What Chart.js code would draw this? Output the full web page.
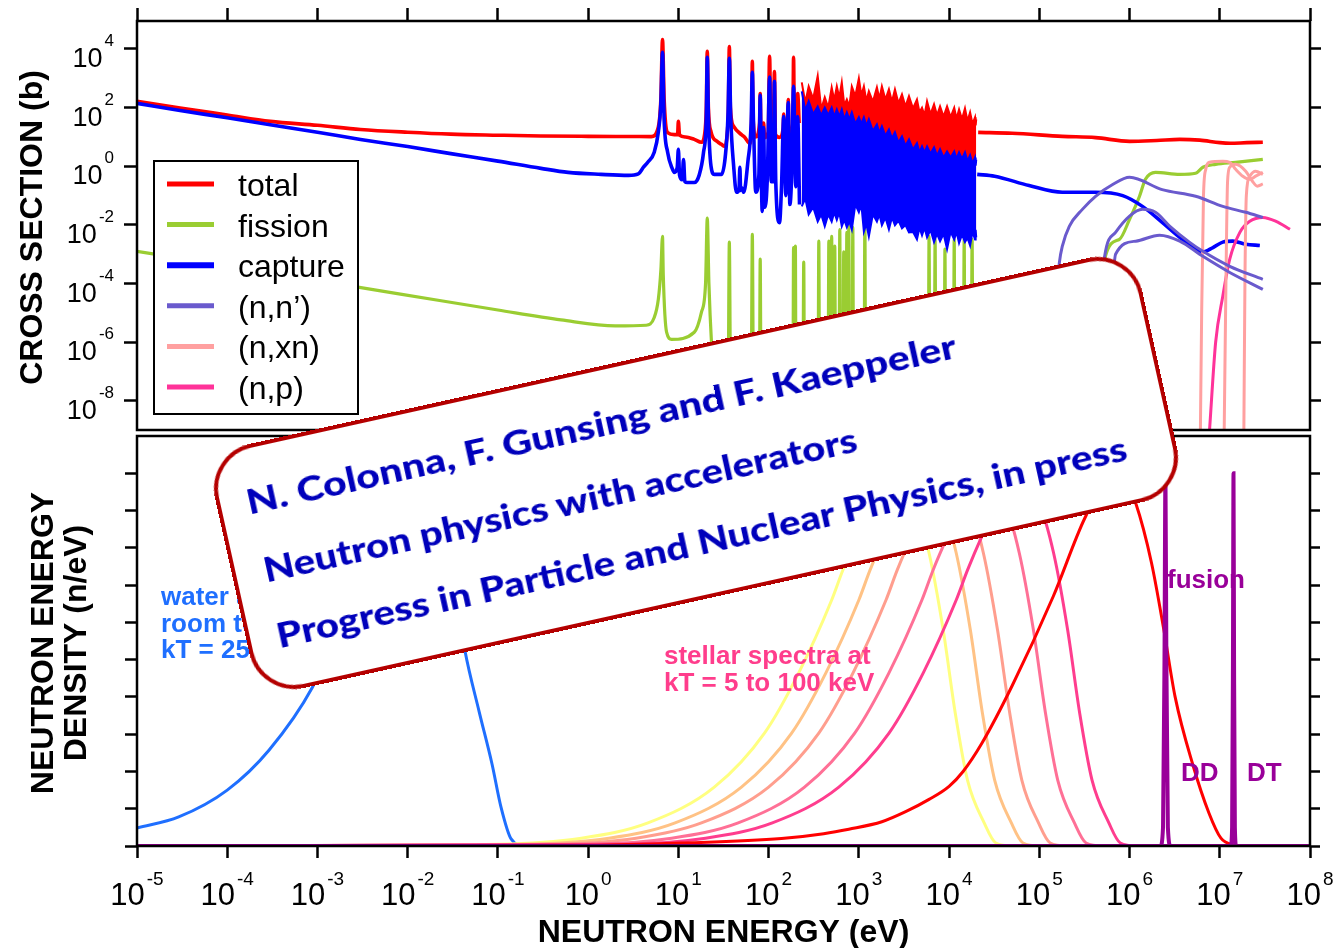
<!DOCTYPE html>
<html lang="en">
<head>
<meta charset="utf-8">
<title>Neutron cross sections and neutron spectra</title>
<script src="https://cdn.jsdelivr.net/npm/chart.js@4.4.1/dist/chart.umd.min.js"></script>
<style>
  html, body { margin: 0; padding: 0; background: #ffffff; }
  #wrap { position: relative; width: 1337px; height: 948px; overflow: hidden; background: #ffffff; }
  #wrap canvas { position: absolute; left: 0; top: 0; }
  #note {
    position: absolute; left: 221px; top: 348px; width: 950px; height: 250px;
    box-sizing: border-box; border: 4px solid #b40000; border-radius: 46px;
    background: #ffffff; transform: rotate(-12.5deg);
  }
  #note svg { position: absolute; left: 0; top: 0; }
  #note text { font-family: Lato, "Noto Sans", sans-serif; font-weight: 900; font-size: 35px; fill: #0000bb; }
</style>
</head>
<body>
<div id="wrap">
  <canvas id="xsChart" width="1337" height="948"></canvas>
  <canvas id="specChart" width="1337" height="948"></canvas>
  <div id="note"><svg width="942" height="242"></svg></div>
</div>
<script>
// axis ticks
var xTickExps = [-5, -4, -3, -2, -1, 0, 1, 2, 3, 4, 5, 6, 7, 8];
var xsTickExps = [-8, -6, -4, -2, 0, 2, 4];
var densTicks = [0, 1, 2, 3, 4, 5, 6, 7, 8, 9, 10];

// top panel: cross sections, energy in eV, sigma in barn
var totalE = [1e-5, 3e-5, 1e-4, 3e-4, 1e-3, 3e-3, 1e-2, 3e-2, 0.1, 0.3, 1.0, 3.0, 5.0, 6.0, 6.4, 6.67, 6.95, 7.6, 9.0, 9.8,
  10.0, 10.3, 12, 15, 18, 19.5, 20.4, 20.9, 21.5, 23, 27, 30, 32.4, 34.5, 35.8, 36.7, 37.7, 41, 50, 54,
  62, 65, 66, 67, 72, 79.5, 80.7, 82, 86, 88, 90, 99, 102.5, 106, 113, 116, 119, 132, 145, 147,
  150, 163, 165, 168, 186, 189, 193, 205, 210, 218, 233, 2.1e4, 5e4, 1.8e5, 4.2e5, 1e6, 2e6, 3.6e6, 6e6, 1e7,
  1.3e7, 2e7, 3e7];
var totalXS = [165, 97, 56, 34, 25, 18, 14.5, 12.5, 11.5, 10.8, 10.5, 10.4, 10.3, 22, 200, 2.1e4, 200, 14, 12, 12,
  34, 11.5, 10, 8.3, 6.6, 12, 100, 8300, 100, 15, 7, 5.6, 4.8, 10, 80, 1.2e4, 100, 23, 12, 10,
  6.0, 60, 3800, 60, 10, 30, 300, 20, 9.7, 30, 9.5, 15, 5600, 15, 12, 1700, 12, 9.7, 20, 60,
  10, 30, 190, 12, 30, 5200, 20, 15, 300, 30, null, 14.4, 13.4, 10.5, 9.5, 7.1, 7.6, 8.3, 7.8, 6.4,
  6.1, 6.4, 6.6];

var captureE = [1e-5, 3e-5, 1e-4, 3e-4, 1e-3, 3e-3, 1e-2, 3e-2, 0.1, 0.3, 0.6, 1.39, 2.8, 3.6, 4.1, 4.6, 5.4, 6.0, 6.4, 6.67,
  6.95, 7.6, 8.6, 9.0, 9.7, 10.0, 10.3, 11.0, 11.4, 11.8, 12.5, 15, 17, 19, 20.4, 20.9, 21.5, 23, 25, 30,
  33, 35.5, 36.7, 38, 41, 44, 47, 48, 49, 50, 53, 59, 64, 66, 68, 72, 78, 80.7, 83, 85,
  88, 91, 97, 102.5, 107, 113, 116, 120, 132, 139, 147, 155, 165, 172, 180, 189, 200, 210, 220, 233,
  2.05e4, 3.2e4, 7.7e4, 1.8e5, 4.2e5, 8.4e5, 1.39e6, 2.3e6, 3.6e6, 5.4e6, 6.5e6, 8.4e6, 1.08e7, 1.39e7, 1.94e7, 2.78e7];
var captureXS = [140, 80, 45, 26, 14.5, 8.2, 4.7, 2.7, 1.5, 0.85, 0.62, 0.53, 0.49, 0.55, 0.93, 1.4, 3.0, 15, 150, 7700,
  40, 3.0, 0.8, 0.62, 0.9, 3.8, 0.5, 0.35, 1.7, 0.3, 0.28, 0.28, 0.5, 3, 50, 5200, 50, 1.0, 0.53, 0.53,
  2, 60, 4800, 50, 1.0, 0.13, 0.16, 0.93, 0.15, 0.19, 0.13, 1.5, 30, 1600, 30, 0.13, 0.5, 265, 0.5, 0.029,
  21, 0.04, 0.5, 1100, 0.3, 0.3, 790, 0.3, 0.012, 0.2, 50, 0.1, 150, 0.05, 0.5, 530, 0.2, 50, 0.05, null,
  0.53, 0.46, 0.22, 0.13, 0.13, 0.1, 0.043, 0.0123, 0.0038, 0.0015, 0.0012, 0.0017, 0.0026, 0.0028, 0.0022, 0.002];

// dense resonance band, 230 eV - 20 keV (peak / valley envelopes)
var bandE = [233, 255, 278, 312, 350, 383, 419, 458, 500, 534, 570, 607, 647, 690, 736, 784, 836, 914, 1000, 1066,
  1137, 1212, 1291, 1430, 1585, 1690, 1801, 1970, 2154, 2326, 2512, 2748, 3006, 3287, 3594, 3979, 4406, 4700, 5012, 5345,
  5700, 6232, 6813, 7356, 7943, 8687, 9500, 1.04e4, 1.14e4, 1.21e4, 1.29e4, 1.39e4, 1.5e4, 1.6e4, 1.71e4, 1.82e4, 1.94e4, 1.97e4, 2.0e4];
var totalBandHi = [730, 150, 530, 200, 1200, 90, 225, 100, 490, 180, 530, 220, 730, 120, 190, 110, 530, 250, 1000, 260,
  530, 170, 360, 160, 490, 200, 530, 190, 420, 160, 420, 140, 285, 110, 245, 95, 190, 70, 100, 55,
  165, 60, 130, 55, 110, 50, 110, 48, 100, 42, 87, 40, 95, 35, 69, 28, 47, 25, 40];
var captureBandHi = [360, 80, 165, 60, 110, 55, 100, 55, 100, 50, 87, 50, 87, 40, 69, 40, 69, 28, 47, 28,
  47, 24, 40, 16, 27, 14, 23, 11, 18, 9, 14.4, 6.5, 10.5, 5, 8.3, 3.7, 6.1, 3, 4.8, 3,
  4.8, 2.7, 4.4, 2.3, 3.8, 2.0, 3.2, 2.0, 3.2, 1.8, 3.0, 1.8, 3.0, 1.5, 2.4, 1.25, 2.0, 1.05, 1.7];
var captureBandLo = [0.043, 0.08, 0.023, 0.04, 0.013, 0.023, 0.009, 0.023, 0.013, 0.027, 0.015, 0.027, 0.009, 0.015, 0.0084, 0.013, 0.007, 0.05, 0.027, 0.05,
  0.006, 0.011, 0.0041, 0.023, 0.013, 0.023, 0.0098, 0.018, 0.007, 0.018, 0.0098, 0.014, 0.0077, 0.01, 0.0056, 0.0058, 0.0032, 0.008, 0.0044, 0.008,
  0.0038, 0.0068, 0.0026, 0.005, 0.0028, 0.005, 0.0015, 0.0058, 0.0032, 0.0058, 0.0024, 0.0047, 0.0026, 0.0036, 0.002, 0.0058, 0.0032, 0.0068, 0.0038];

var fissionE = [1e-5, 1e-4, 1e-3, 8.3e-3, 0.1, 0.5, 2.0, 4.4, 5.4, 6.0, 6.4, 6.67, 6.8, 7.4, 8.4, 15, 18, 20, 20.9, 21.8, 23.4, 26,
  35.5, 36.7, 38, 64, 66, 68, 79, 80.7, 82.5,
  186, 189, 192, 195, 198, 201, 240, 245, 250, 353, 360, 367, 456, 465, 474, 492, 500, 508, 530, 541, 552,
  603, 615, 627, 667, 680, 693, 721, 736, 751, 760, 774, 788, 840, 857, 874, 1143, 1166, 1189,
  5880, 6000, 6120, 6860, 7000, 7140, 8820, 9000, 9180, 1.12e4, 1.14e4, 1.16e4, 1.44e4, 1.47e4, 1.5e4, 1.76e4, 1.8e4, 1.84e4,
  4.5e5, 5.4e5, 7.7e5, 1.0e6, 1.29e6, 1.5e6, 1.94e6, 3.6e6, 5.4e6, 6.5e6, 9.0e6, 1.5e7, 3.0e7];
var fissionXS = [1.26e-3, 4e-4, 1.26e-4, 4.4e-5, 1.26e-5, 5.8e-6, 3.6e-6, 3.8e-6, 7e-6, 3e-5, 3e-4, 4.1e-3, 2e-4, 2.2e-6, 1.26e-6, 2.2e-6, 1.05e-5, 1e-4, 0.017, 1e-4, 7e-7, 1e-8,
  1e-8, 2.6e-3, 1e-8, 1e-8, 4.8e-3, 1e-8, 1e-8, 6.8e-4, 1e-8,
  1e-8, 1.7e-3, 1e-8, 1e-8, 1.9e-3, 1e-8, 1e-8, 5.4e-4, 1e-8, 1e-8, 2.8e-3, 1e-8, 1e-8, 2.8e-3, 1e-8, 1e-8, 4.1e-3, 1e-8, 1e-8, 1.9e-3, 1e-8,
  1e-8, 7e-3, 1e-8, 1e-8, 1.2e-3, 1e-8, 1e-8, 5.6e-3, 1e-8, 1e-8, 9e-3, 1e-8, 1e-8, 8.3e-3, 1e-8, 1e-8, 0.0155, 1e-8,
  1e-8, 4.1e-3, 1e-8, 1e-8, 3.2e-3, 1e-8, 1e-8, 1.5e-3, 1e-8, 1e-8, 3.2e-3, 1e-8, 1e-8, 3.2e-3, 1e-8, 1e-8, 3.2e-3, 1e-8,
  1e-8, 8.5e-4, 3.2e-3, 0.0155, 0.095, 0.36, 0.62, 0.53, 0.58, 0.93, 1.17, 1.37, 1.73];

// (n,n') to three levels
var inel1E = [1.4e5, 1.67e5, 1.8e5, 2.15e5, 3.0e5, 4.2e5, 6.5e5, 1.0e6, 2.3e6, 5.4e6, 1.08e7, 1.94e7, 3.0e7];
var inel1XS = [1e-6, 5.3e-4, 1.9e-3, 9e-3, 0.034, 0.095, 0.24, 0.42, 0.16, 0.095, 0.043, 0.027, 0.018];
var inel2E = [4.5e5, 5.3e5, 7.0e5, 1.0e6, 1.39e6, 1.94e6, 2.8e6, 4.6e6, 6.5e6, 1.29e7, 3.0e7];
var inel2XS = [1e-6, 8.5e-4, 5.6e-3, 0.02, 0.034, 0.027, 9e-3, 2.6e-3, 1.26e-3, 3.9e-4, 1.4e-4];
var inel3E = [6e5, 7.0e5, 1.17e6, 2.15e6, 3.6e6, 6.5e6, 1.29e7, 3.0e7];
var inel3XS = [1e-6, 1.0e-3, 2.8e-3, 4.5e-3, 2.8e-3, 8.5e-4, 2.4e-4, 6.4e-5];

// (n,xn): 2n, 3n, 4n
var n2nE = [6.1e6, 6.3e6, 6.6e6, 7.0e6, 7.7e6, 1.08e7, 1.29e7, 1.5e7, 1.8e7, 2.15e7, 2.5e7, 3.0e7];
var n2nXS = [1e-9, 1e-5, 0.1, 0.8, 1.37, 1.48, 1.37, 0.79, 0.46, 0.36, 0.46, 0.62];
var n3nE = [1.12e7, 1.17e7, 1.22e7, 1.29e7, 1.5e7, 1.94e7, 2.3e7, 2.6e7, 3.0e7];
var n3nXS = [1e-9, 1e-4, 0.3, 0.93, 1.17, 0.68, 0.31, 0.21, 0.25];
var n4nE = [1.85e7, 1.9e7, 1.97e7, 2.15e7, 2.5e7, 3.0e7];
var n4nXS = [1e-9, 1e-4, 0.1, 0.46, 0.68, 0.53];

var npE = [7.7e6, 9.0e6, 1.08e7, 1.29e7, 1.67e7, 2.15e7, 3.0e7, 4.2e7, 6.0e7];
var npXS = [1e-9, 1e-6, 3.7e-5, 6.8e-4, 5.6e-3, 0.0133, 0.018, 0.0133, 0.0071];

var legendLabels = ['total', 'fission', 'capture', '(n,n\u2019)', '(n,xn)', '(n,p)'];
var legendColors = ['#ff0000', '#9acd32', '#0000ff', '#6a5acd', '#ffa0a0', '#ff3399'];

// bottom panel: neutron energy density (arbitrary units)
var waterE = [1e-5, 2.9e-5, 1e-4, 2.9e-4, 8.8e-4, 2e-3, 5e-3, 1.2e-2, 2.5e-2, 4.3e-2, 6.2e-2, 8.6e-2, 0.108, 0.14, 0.2, 5e4];
var waterN = [0.48, 0.78, 1.5, 2.57, 4.26, 6.2, 8.6, 9.8, 8.8, 5.25, 3.6, 2.2, 1.05, 0.19, 0, 0];

var stellarN = [0, 0.05, 0.21, 0.62, 1.58, 3.03, 4.64, 6.6, 7.4, 8.4, 9.3, 9.9, 9.3, 7.86, 5.8, 3.57, 1.77, 0.62, 0.08, 0, 0];
var kT5E = [1e-5, 0.1, 0.84, 4.6, 25, 90, 215, 500, 664, 1000, 1500, 2500, 4000, 6000, 8600, 1.17e4, 1.6e4, 2.45e4, 3.3e4, 5e4, 1e8];
var kT10E = [1e-5, 0.2, 1.7, 9.2, 50, 180, 430, 1000, 1330, 2000, 3000, 5000, 8000, 1.2e4, 1.72e4, 2.34e4, 3.2e4, 4.9e4, 6.6e4, 1e5, 1e8];
var kT20E = [1e-5, 0.4, 3.4, 18, 100, 360, 860, 2000, 2660, 4000, 6000, 1e4, 1.6e4, 2.4e4, 3.44e4, 4.7e4, 6.4e4, 9.8e4, 1.32e5, 2e5, 1e8];
var kT50E = [1e-5, 1, 8.4, 46, 250, 900, 2150, 5000, 6640, 1e4, 1.5e4, 2.5e4, 4e4, 6e4, 8.6e4, 1.17e5, 1.6e5, 2.45e5, 3.3e5, 5e5, 1e8];
var kT100E = [1e-5, 2.4, 20, 110, 600, 2160, 5160, 1.2e4, 1.6e4, 2.4e4, 3.6e4, 6e4, 9.6e4, 1.44e5, 2.06e5, 2.8e5, 3.84e5, 5.9e5, 7.9e5, 1.2e6, 1e8];
var stellarColors = ['#ffff80', '#ffc285', '#ff9e8e', '#ff7096', '#ff3d8e'];

var fastE = [1e-5, 1, 10.8, 139, 408, 774, 1800, 3300, 6000, 1e4, 1.43e4, 2.3e4, 5e4, 1.43e5, 3.2e5, 6e5, 9e5, 1.17e6, 1.75e6, 2.4e6, 3.2e6, 5e6, 7.6e6, 1.03e7, 1.43e7, 2e7, 1e8];
var fastN = [0, 0.02, 0.08, 0.2, 0.33, 0.45, 0.65, 0.92, 1.25, 1.6, 2.0, 2.75, 4.3, 6.7, 8.8, 9.9, 9.8, 9.2, 7.6, 5.8, 4.0, 2.2, 0.88, 0.21, 0.03, 0, 0];

var ddE = [1e-5, 2.2e6, 2.35e6, 2.44e6, 2.5e6, 2.56e6, 2.66e6, 2.85e6, 1e8];
var ddN = [0, 0, 0.5, 5, 10, 5, 0.5, 0, 0];
var dtE = [1e-5, 1.32e7, 1.37e7, 1.40e7, 1.42e7, 1.44e7, 1.47e7, 1.52e7, 1e8];
var dtN = [0, 0, 0.5, 5, 10, 5, 0.5, 0, 0];

var noteLines = ['N. Colonna, F. Gunsing and F. Kaeppeler',
  'Neutron physics with accelerators',
  'Progress in Particle and Nuclear Physics, in press'];

var FONT = '"Liberation Sans", Arial, sans-serif';
Chart.defaults.font.family = FONT;

function pts(xs, ys) {
  return xs.map(function (x, i) { return { x: x, y: ys[i] }; });
}

function line(data, color, width, order, extra) {
  return Object.assign({
    data: data, borderColor: color, backgroundColor: color, borderWidth: width,
    pointRadius: 0, fill: false, order: order, cubicInterpolationMode: 'monotone'
  }, extra || {});
}

function tickScale(type, position, min, max, values, size, tickLen) {
  return {
    type: type, position: position, min: min, max: max, bounds: 'data',
    grid: { drawOnChartArea: false, drawTicks: true, tickLength: tickLen, tickWidth: 2.5, tickColor: '#000' },
    border: { display: false },
    ticks: { display: false },
    afterBuildTicks: function (s) { s.ticks = values.map(function (v) { return { value: v }; }); },
    afterFit: function (s) { if (s.isHorizontal()) { s.height = size; } else { s.width = size; } }
  };
}

function drawPow(ctx, exp, x, y, baseSize, supSize, raise, align) {
  var sup = String(exp);
  ctx.font = baseSize + 'px ' + FONT;
  var wb = ctx.measureText('10').width;
  ctx.font = supSize + 'px ' + FONT;
  var ws = ctx.measureText(sup).width;
  var gap = 2;
  var x0 = align === 'right' ? x - wb - gap - ws : x - (wb + gap + ws) / 2;
  ctx.textAlign = 'left';
  ctx.textBaseline = 'alphabetic';
  ctx.fillStyle = '#000';
  ctx.font = baseSize + 'px ' + FONT;
  ctx.fillText('10', x0, y);
  ctx.font = supSize + 'px ' + FONT;
  ctx.fillText(sup, x0 + wb + gap, y - raise);
}

function pow10(list) { return list.map(function (e) { return Math.pow(10, e); }); }

var xsDecor = {
  id: 'xsDecor',
  afterDraw: function (chart) {
    var ctx = chart.ctx, a = chart.chartArea, ys = chart.scales.y;
    ctx.save();
    ctx.strokeStyle = '#000';
    ctx.lineWidth = 2.5;
    ctx.strokeRect(a.left, a.top, a.right - a.left, a.bottom - a.top);

    // legend
    ctx.fillStyle = '#fff';
    ctx.fillRect(154, 161, 204, 253);
    ctx.lineWidth = 2;
    ctx.strokeRect(154, 161, 204, 253);
    legendLabels.forEach(function (lab, i) {
      var yy = 184 + i * 40.6;
      ctx.strokeStyle = legendColors[i];
      ctx.lineWidth = i === 2 ? 6 : 5;
      ctx.beginPath();
      ctx.moveTo(167, yy);
      ctx.lineTo(214, yy);
      ctx.stroke();
      ctx.fillStyle = '#000';
      ctx.font = '32px ' + FONT;
      ctx.textAlign = 'left';
      ctx.textBaseline = 'alphabetic';
      ctx.fillText(lab, 238, yy + 12);
    });

    xsTickExps.forEach(function (e) {
      drawPow(ctx, e, 114, ys.getPixelForValue(Math.pow(10, e)) + 18, 27, 17, 21, 'right');
    });

    ctx.fillStyle = '#000';
    ctx.font = 'bold 32px ' + FONT;
    ctx.textAlign = 'center';
    ctx.textBaseline = 'alphabetic';
    ctx.translate(42, (a.top + a.bottom) / 2 + 2);
    ctx.rotate(-Math.PI / 2);
    ctx.fillText('CROSS SECTION (b)', 0, 0);
    ctx.restore();
  }
};

var specDecor = {
  id: 'specDecor',
  afterDraw: function (chart) {
    var ctx = chart.ctx, a = chart.chartArea, xs = chart.scales.x;
    ctx.save();
    ctx.strokeStyle = '#000';
    ctx.lineWidth = 2.5;
    ctx.strokeRect(a.left, a.top, a.right - a.left, a.bottom - a.top);

    xTickExps.forEach(function (e) {
      drawPow(ctx, e, xs.getPixelForValue(Math.pow(10, e)), 905, 31, 19, 20, 'center');
    });

    ctx.fillStyle = '#000';
    ctx.font = 'bold 32px ' + FONT;
    ctx.textAlign = 'center';
    ctx.textBaseline = 'alphabetic';
    ctx.fillText('NEUTRON ENERGY (eV)', (a.left + a.right) / 2, 942);

    ctx.save();
    ctx.translate(53, 643);
    ctx.rotate(-Math.PI / 2);
    ctx.fillText('NEUTRON ENERGY', 0, 0);
    ctx.fillText('DENSITY (n/eV)', 0, 33);
    ctx.restore();

    ctx.textAlign = 'left';
    ctx.font = 'bold 26px ' + FONT;
    ctx.fillStyle = '#1f6fff';
    ctx.fillText('water at', 161, 605);
    ctx.fillText('room temperature', 161, 632);
    ctx.fillText('kT = 25 meV', 161, 658);
    ctx.fillStyle = '#ff3d8c';
    ctx.fillText('stellar spectra at', 664, 664);
    ctx.fillText('kT = 5 to 100 keV', 664, 691);
    ctx.fillStyle = '#990099';
    ctx.fillText('fusion', 1167, 588);
    ctx.fillText('DD', 1181, 781);
    ctx.fillText('DT', 1247, 781);
    ctx.restore();
  }
};

var common = {
  responsive: false,
  maintainAspectRatio: false,
  animation: false,
  devicePixelRatio: 1,
  events: [],
  plugins: { legend: { display: false }, tooltip: { enabled: false } }
};

var straight = { cubicInterpolationMode: 'default', tension: 0 };

new Chart(document.getElementById('xsChart').getContext('2d'), {
  type: 'line',
  data: {
    datasets: [
      line(pts(captureE, captureXS), '#0000ff', 3.6, 1),
      line(pts(bandE, captureBandHi), '#0000ff', 2, 2, Object.assign({ fill: 2 }, straight)),
      line(pts(bandE, captureBandLo), '#0000ff', 2, 3, straight),
      line(pts(totalE, totalXS), '#ff0000', 3.6, 5),
      line(pts(bandE, totalBandHi), '#ff0000', 2, 6, Object.assign({ fill: 2 }, straight)),
      line(pts(fissionE, fissionXS), '#9acd32', 3.2, 7),
      line(pts(inel1E, inel1XS), '#6a5acd', 3, 0),
      line(pts(inel2E, inel2XS), '#6a5acd', 3, 0),
      line(pts(inel3E, inel3XS), '#6a5acd', 3, 0),
      line(pts(n2nE, n2nXS), '#ffa0a0', 3, 0),
      line(pts(n3nE, n3nXS), '#ffa0a0', 3, 0),
      line(pts(n4nE, n4nXS), '#ffa0a0', 3, 0),
      line(pts(npE, npXS), '#ff3399', 3, 0)
    ]
  },
  options: Object.assign({}, common, {
    layout: { padding: { top: 0, left: 0, right: 0, bottom: 518 } },
    scales: {
      x: tickScale('logarithmic', 'top', 1e-5, 1e8, pow10(xTickExps), 21, 13),
      y: tickScale('logarithmic', 'left', 1.02e-9, 9e4, pow10(xsTickExps), 137, 13),
      y2: tickScale('logarithmic', 'right', 1.02e-9, 9e4, pow10(xsTickExps), 27, 11)
    }
  }),
  plugins: [xsDecor]
});

var stellarSets = [kT100E, kT50E, kT20E, kT10E, kT5E].map(function (es, i) {
  return line(pts(es, stellarN), stellarColors[4 - i], 3, 2 + i);
});

new Chart(document.getElementById('specChart').getContext('2d'), {
  type: 'line',
  data: {
    datasets: [
      line(pts(ddE, ddN), '#990099', 4, 0),
      line(pts(dtE, dtN), '#990099', 4, 0),
      line(pts(fastE, fastN), '#ff0000', 3, 1)
    ].concat(stellarSets, [
      line(pts(waterE, waterN), '#1f6fff', 3, 8)
    ])
  },
  options: Object.assign({}, common, {
    layout: { padding: { top: 436, left: 0, right: 0, bottom: 90 } },
    scales: {
      x: tickScale('logarithmic', 'bottom', 1e-5, 1e8, pow10(xTickExps), 12, 12),
      y: tickScale('linear', 'left', 0, 11, densTicks, 137, 12),
      y2: tickScale('linear', 'right', 0, 11, densTicks, 27, 10)
    }
  }),
  plugins: [specDecor]
});

// citation box over the figure
var svg = document.querySelector('#note svg');
var noteX = [26, 28, 26.5], noteBase = [65, 134.5, 202], noteWidth = [726, 607, 870];
noteLines.forEach(function (t, i) {
  var el = document.createElementNS('http://www.w3.org/2000/svg', 'text');
  el.setAttribute('x', noteX[i]);
  el.setAttribute('y', noteBase[i]);
  el.setAttribute('textLength', noteWidth[i]);
  el.setAttribute('lengthAdjust', 'spacingAndGlyphs');
  el.textContent = t;
  svg.appendChild(el);
});
</script>
</body>
</html>
